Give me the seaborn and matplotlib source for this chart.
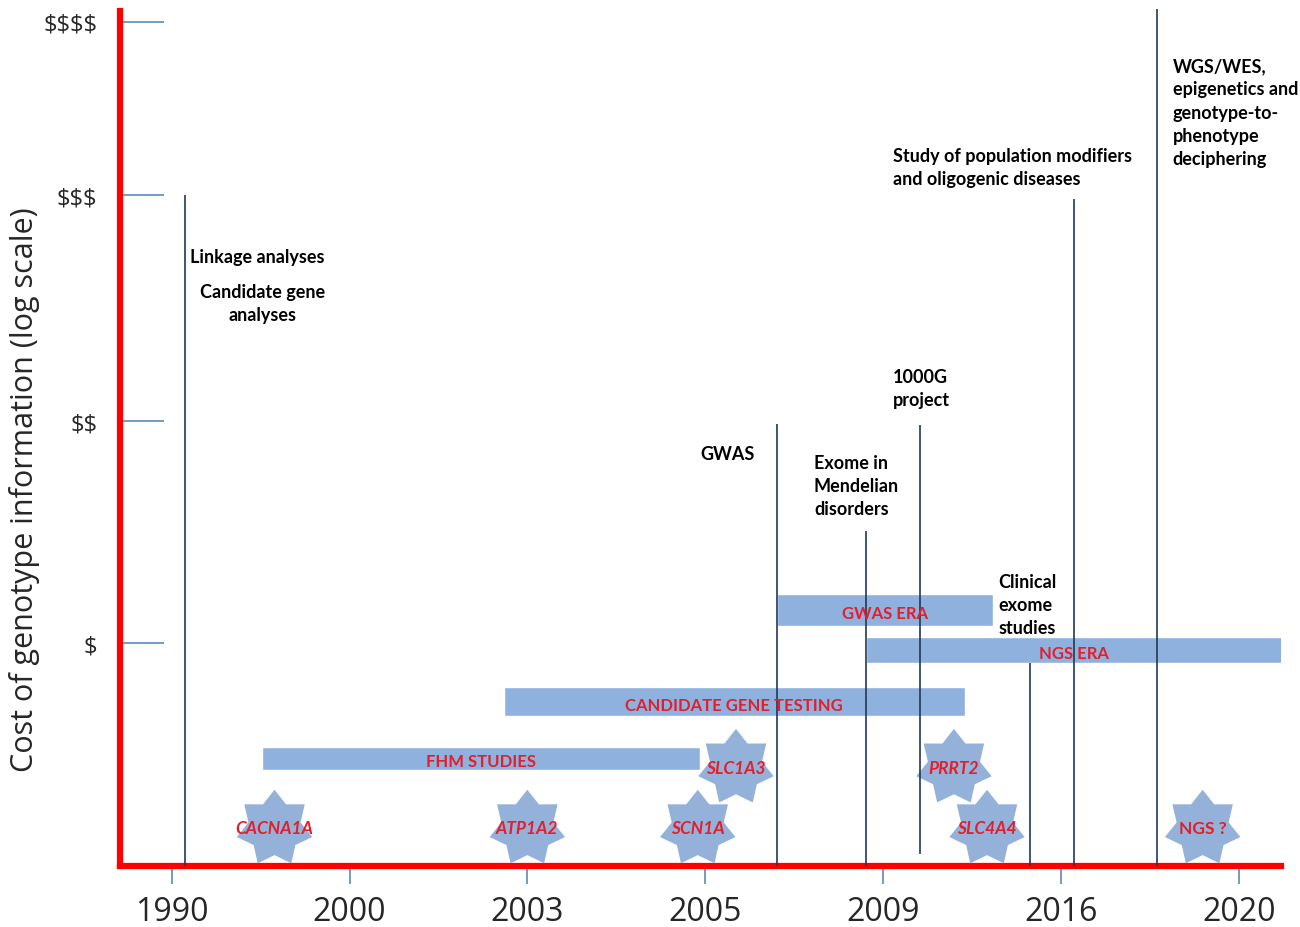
import numpy as np
import seaborn as sns
import matplotlib.pyplot as plt
from matplotlib.path import Path

# Ejes: años (posiciones equiespaciadas) y nivel de coste
years = ["1990", "2000", "2003", "2005", "2009", "2016", "2020"]
cost_ticks = [1.0, 2.0, 3.02, 3.8]
cost_labels = ["$", "$$", "$$$", "$$$$"]

# Hitos: posición, altura de la línea y texto
milestone_x = [0.072, 3.405, 3.902, 4.209, 4.825, 5.072, 5.541]
milestone_bottom = [0, 0, 0, 0.052, 0, 0, 0]
milestone_top = [3.02, 1.989, 1.507, 1.984, 0.912, 3.002, 3.858]

note_text = ["Linkage analyses", "Candidate gene\nanalyses", "GWAS",
             "Exome in\nMendelian\ndisorders", "1000G\nproject",
             "Clinical\nexome\nstudies",
             "Study of population modifiers\nand oligogenic diseases",
             "WGS/WES,\nepigenetics and\ngenotype-to-\nphenotype\ndeciphering"]
note_x = [0.103, 0.508, 2.970, 3.610, 4.056, 4.645, 4.056, 5.627]
note_y = [2.745, 2.532, 1.854, 1.711, 2.151, 1.175, 3.145, 3.394]
note_ha = ["left", "center", "left", "left", "left", "left", "left", "left"]

# Eras (barras)
era_names = ["FHM STUDIES", "CANDIDATE GENE TESTING", "GWAS ERA", "NGS ERA"]
era_start = [0.510, 1.866, 3.400, 3.905]
era_end = [2.967, 4.459, 4.616, 6.240]
era_y = [0.482, 0.737, 1.152, 0.969]
era_h = [0.101, 0.131, 0.143, 0.117]

# Genes (estrellas)
gene_names = ["CACNA1A", "ATP1A2", "SCN1A", "SLC1A3", "PRRT2", "SLC4A4", "NGS ?"]
gene_x = [0.578, 1.999, 2.957, 3.172, 4.397, 4.583, 5.795]
gene_y = [0.167, 0.167, 0.167, 0.441, 0.441, 0.167, 0.167]
gene_italic = [True, True, True, True, True, True, False]

RED = "#FF0000"
TXT_RED = "#E41E2B"
BAR = "#8FB1DE"
STAR = "#93B1D9"
LINE = "#1F3857"
TICK = "#4F7DB8"

sns.set_theme(style="white")
plt.rcParams["font.family"] = ["Open Sans", "DejaVu Sans"]

fig = plt.figure(figsize=(13, 9.28), dpi=100)
ax = fig.add_axes([119.5 / 1300, 1 - 866.5 / 928, (1281 - 119.5) / 1300,
                   (866.5 - 12) / 928])
ax.set_xlim(-0.2934, 6.2355)
ax.set_ylim(0, 3.849)

# Estrella de 7 puntas
ang = np.pi / 2 + np.arange(14) * np.pi / 7
rad = np.where(np.arange(14) % 2 == 0, 1.0, 0.69)
verts = np.column_stack([rad * np.cos(ang), rad * np.sin(ang)])
star = Path(np.vstack([verts, verts[:1]]),
            [Path.MOVETO] + [Path.LINETO] * 13 + [Path.CLOSEPOLY])

# Barras de eras
ax.barh(era_y, np.array(era_end) - np.array(era_start), left=era_start,
        height=era_h, color=BAR, zorder=1)
for name, s, e, y in zip(era_names, era_start, era_end, era_y):
    ax.annotate(name, ((s + e) / 2, y), xytext=(0, -2),
                textcoords="offset points", ha="center", va="center",
                color=TXT_RED, fontsize=12, fontweight="bold",
                family=["Lato", "DejaVu Sans"], zorder=5)

# Estrellas
sns.scatterplot(x=gene_x, y=gene_y, marker=star, s=3100, color=STAR,
                edgecolor="none", linewidth=0, ax=ax, zorder=3, legend=False)
for name, x, y, it in zip(gene_names, gene_x, gene_y, gene_italic):
    ax.text(x, y, name, ha="center", va="center", color=TXT_RED,
            fontsize=12.5, fontweight="bold",
            fontstyle="italic" if it else "normal",
            family=["Lato", "DejaVu Sans"], zorder=5)

# Líneas de hitos
ax.vlines(milestone_x, milestone_bottom, milestone_top, color=LINE,
          linewidth=1.2, zorder=4, clip_on=False)
for t, x, y, ha in zip(note_text, note_x, note_y, note_ha):
    ax.text(x, y, t, ha=ha, va="center", multialignment=ha,
            fontsize=13, fontweight="bold", color="black",
            family=["Lato", "DejaVu Sans"], linespacing=1.43)

# Ejes
ax.set_xticks(range(len(years)))
ax.set_xticklabels(years, fontsize=23)
ax.set_yticks(cost_ticks)
ax.set_yticklabels([c.replace("$", r"\$") for c in cost_labels], fontsize=17)
ax.tick_params(axis="x", direction="out", length=13, width=1.1,
               color=TICK, pad=8, bottom=True)
ax.tick_params(axis="y", direction="in", length=32, width=1.1,
               color=TICK, pad=16, left=True)
ax.set_ylabel("Cost of genotype information (log scale)", fontsize=22)
ax.yaxis.set_label_coords(-0.0687, 0.4406)

for side in ["top", "right"]:
    ax.spines[side].set_visible(False)
for side in ["left", "bottom"]:
    ax.spines[side].set_color(RED)
    ax.spines[side].set_linewidth(4.5)
    ax.spines[side].set_capstyle("projecting")
ax.grid(False)

fig.savefig("out.png", dpi=100)
